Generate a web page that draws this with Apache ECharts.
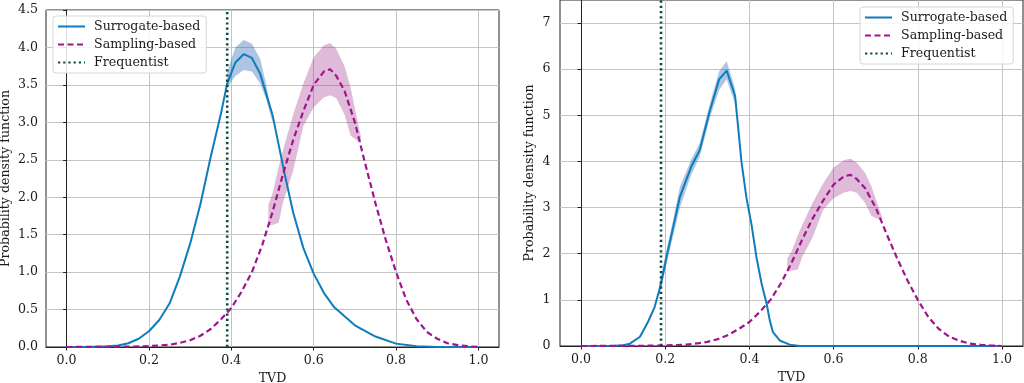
<!DOCTYPE html>
<html><head><meta charset="utf-8">
<script src="https://cdn.jsdelivr.net/npm/echarts@6/dist/echarts.min.js"></script>
<style>html,body{margin:0;padding:0;background:#fff}#c{width:1024px;height:383px}</style>
</head><body><div id="c"></div><script>
// ---- tick labels ----
const xTicks = [0, 0.2, 0.4, 0.6, 0.8, 1.0];
const yTicksLeft = [0, 0.5, 1, 1.5, 2, 2.5, 3, 3.5, 4, 4.5];
const yTicksRight = [0, 1, 2, 3, 4, 5, 6, 7];
const legendNames = ['Surrogate-based', 'Sampling-based', 'Frequentist'];

// ---- Sampling-based (same in both panels) ----
const samplingX = [0, 0.1, 0.15, 0.2, 0.25, 0.275, 0.3, 0.325, 0.35, 0.375, 0.4, 0.425, 0.45, 0.475, 0.5, 0.525, 0.55, 0.575, 0.6, 0.625, 0.64, 0.655, 0.675, 0.7, 0.725, 0.75, 0.775, 0.8, 0.825, 0.85, 0.875, 0.9, 0.925, 0.95, 0.975, 1.0];
const samplingY = [0, 0.002, 0.005, 0.012, 0.03, 0.055, 0.09, 0.15, 0.24, 0.37, 0.52, 0.74, 1.0, 1.36, 1.8, 2.3, 2.76, 3.15, 3.5, 3.68, 3.71, 3.62, 3.42, 3.0, 2.45, 1.92, 1.43, 1.0, 0.63, 0.37, 0.2, 0.11, 0.05, 0.025, 0.01, 0.0];
const sampBandX = [0.49, 0.5, 0.515, 0.525, 0.55, 0.575, 0.6, 0.625, 0.64, 0.655, 0.675, 0.69, 0.705, 0.715];
const sampBandLow = [1.62, 1.63, 1.66, 1.92, 2.35, 2.95, 3.2, 3.33, 3.36, 3.32, 3.1, 2.82, 2.76, 2.72];
const sampBandHigh = [1.9, 2.05, 2.4, 2.62, 3.1, 3.52, 3.87, 4.03, 4.06, 3.98, 3.75, 3.46, 3.05, 2.8];

// ---- Surrogate-based, left panel ----
const surrLeftX = [0, 0.05, 0.1, 0.125, 0.15, 0.175, 0.2, 0.225, 0.25, 0.275, 0.3, 0.325, 0.35, 0.375, 0.39, 0.41, 0.43, 0.45, 0.47, 0.5, 0.53, 0.55, 0.575, 0.6, 0.625, 0.65, 0.7, 0.75, 0.8, 0.85, 0.9, 1.0];
const surrLeftY = [0, 0, 0.01, 0.02, 0.05, 0.11, 0.21, 0.36, 0.58, 0.94, 1.38, 1.91, 2.54, 3.12, 3.52, 3.8, 3.91, 3.86, 3.65, 3.1, 2.3, 1.8, 1.32, 0.98, 0.72, 0.53, 0.29, 0.14, 0.045, 0.01, 0, 0];
const surrLeftBandX = [0.39, 0.4, 0.41, 0.43, 0.45, 0.47, 0.485, 0.5];
const surrLeftBandLow = [3.45, 3.55, 3.62, 3.7, 3.68, 3.52, 3.3, 3.0];
const surrLeftBandHigh = [3.66, 3.85, 4.0, 4.1, 4.05, 3.85, 3.5, 3.05];

// ---- Surrogate-based, right panel ----
const surrRightX = [0, 0.05, 0.08, 0.1, 0.116, 0.14, 0.159, 0.175, 0.19, 0.203, 0.219, 0.235, 0.247, 0.262, 0.282, 0.306, 0.328, 0.346, 0.366, 0.381, 0.393, 0.405, 0.417, 0.429, 0.441, 0.4485, 0.456, 0.472, 0.496, 0.52, 0.6, 1.0];
const surrRightY = [0, 0, 0.005, 0.015, 0.05, 0.2, 0.52, 0.85, 1.35, 1.93, 2.58, 3.24, 3.53, 3.89, 4.25, 5.1, 5.78, 5.97, 5.42, 4.0, 3.21, 2.63, 1.91, 1.35, 0.91, 0.55, 0.3, 0.12, 0.03, 0, 0, 0];
const surrRightBandX = [0.185, 0.2, 0.219, 0.235, 0.247, 0.262, 0.282, 0.306, 0.328, 0.346, 0.366, 0.37];
const surrRightBandLow = [1.05, 1.65, 2.4, 3.0, 3.33, 3.72, 4.1, 4.95, 5.55, 5.78, 5.25, 4.95];
const surrRightBandHigh = [1.3, 1.95, 2.75, 3.45, 3.72, 4.05, 4.4, 5.25, 5.95, 6.17, 5.58, 5.15];

// ---- Frequentist estimates ----
const freqLeft = 0.39;
const freqRight = 0.19;
const yMaxLeft = 4.5;
const yMaxRight = 7.5;

const FONT = 'DejaVu Serif';
const FS = 12.6;
const TXT = '#1a1a1a';
const C_SURR = '#0f7dba';
const C_SAMP = '#a0148f';
const C_FREQ = '#0a4a46';
const BAND_SURR = 'rgba(40,100,180,0.38)';
const BAND_SAMP = 'rgba(150,30,130,0.3)';

const zip = (xs, ys) => xs.map((x, i) => [x, ys[i]]);

function band(xs, lo, hi, color, g) {
  return {
    type: 'custom', xAxisIndex: g, yAxisIndex: g, silent: true, z: 1,
    data: xs.map((x, i) => [x, lo[i], hi[i]]),
    encode: { x: 0, y: [1, 2] },
    renderItem: function (params, api) {
      if (params.dataIndex !== 0) return null;
      const pts = [];
      for (let i = 0; i < xs.length; i++) pts.push(api.coord([xs[i], hi[i]]));
      for (let i = xs.length - 1; i >= 0; i--) pts.push(api.coord([xs[i], lo[i]]));
      return { type: 'polygon', shape: { points: pts }, style: { fill: color, stroke: null } };
    }
  };
}

function xAxis(g) {
  return {
    type: 'value', gridIndex: g, min: -0.05, max: 1.05,
    name: 'TVD', nameLocation: 'middle', nameGap: 25,
    nameTextStyle: { fontFamily: FONT, fontSize: FS, color: TXT },
    axisLine: { show: true, onZero: false, lineStyle: { color: '#222', width: 1 } },
    axisTick: { show: true, inside: false, length: 3.5, customValues: xTicks, lineStyle: { color: '#222' } },
    axisLabel: { customValues: xTicks, formatter: v => v.toFixed(1), margin: 7, fontFamily: FONT, fontSize: FS, color: TXT },
    splitLine: { show: true, lineStyle: { color: '#c4c4c4', width: 1 } }
  };
}
function yAxis(g, max, ticks, dec, gap, margin) {
  return {
    type: 'value', gridIndex: g, min: 0, max: max,
    name: 'Probability density function', nameLocation: 'middle', nameGap: gap, nameRotate: 90,
    nameTextStyle: { fontFamily: FONT, fontSize: FS, color: TXT },
    axisLine: { show: true, lineStyle: { color: '#222', width: 1 } },
    axisTick: { show: true, inside: false, length: 3.5, customValues: ticks, lineStyle: { color: '#222' } },
    axisLabel: { customValues: ticks, formatter: v => v.toFixed(dec), margin: margin, fontFamily: FONT, fontSize: FS, color: TXT },
    splitLine: { show: true, lineStyle: { color: '#c4c4c4', width: 1 } }
  };
}
function mainLines(g, sx, sy, fx, ymax) {
  return [
    { name: 'Surrogate-based', type: 'line', xAxisIndex: g, yAxisIndex: g, data: zip(sx, sy), symbol: 'none',
      lineStyle: { color: C_SURR, width: 2 }, itemStyle: { color: C_SURR }, z: 3 },
    { name: 'Sampling-based', type: 'line', xAxisIndex: g, yAxisIndex: g, data: zip(samplingX, samplingY), symbol: 'none',
      lineStyle: { color: C_SAMP, width: 2.2, type: [6, 3.5] }, itemStyle: { color: C_SAMP }, z: 3 },
    { name: 'Frequentist', type: 'line', xAxisIndex: g, yAxisIndex: g, data: [[fx, 0], [fx, ymax]], symbol: 'none',
      lineStyle: { color: C_FREQ, width: 2.6, type: [2.2, 3] }, itemStyle: { color: C_FREQ }, z: 4 }
  ];
}
function legend(left, top) {
  return {
    data: legendNames, orient: 'vertical', left: left, top: top,
    itemWidth: 27, itemHeight: 14, itemGap: 5, padding: [4, 6, 4, 4],
    backgroundColor: 'rgba(255,255,255,0.85)', borderColor: '#d6d6d6', borderWidth: 1, borderRadius: 3,
    formatter: n => ' ' + n,
    itemStyle: { opacity: 0 },
    textStyle: { fontFamily: FONT, fontSize: FS, color: TXT },
    selectedMode: false
  };
}

const chart = echarts.init(document.getElementById('c'), null, { renderer: 'canvas' });
chart.setOption({
  animation: false,
  backgroundColor: '#fff',
  grid: [
    { left: 46, top: 10, width: 453, height: 337, containLabel: false, outerBoundsMode: 'none',
      show: true, borderColor: '#222', borderWidth: 1, backgroundColor: 'transparent' },
    { left: 560, top: 0, width: 463, height: 346, containLabel: false, outerBoundsMode: 'none',
      show: true, borderColor: '#222', borderWidth: 1, backgroundColor: 'transparent' }
  ],
  xAxis: [xAxis(0), xAxis(1)],
  yAxis: [yAxis(0, yMaxLeft, yTicksLeft, 1, 34, 8), yAxis(1, yMaxRight, yTicksRight, 0, 24, 9.5)],
  legend: [legend(53, 16), legend(860, 7)],
  series: [].concat(
    band(surrLeftBandX, surrLeftBandLow, surrLeftBandHigh, BAND_SURR, 0),
    band(sampBandX, sampBandLow, sampBandHigh, BAND_SAMP, 0),
    band(surrRightBandX, surrRightBandLow, surrRightBandHigh, BAND_SURR, 1),
    band(sampBandX, sampBandLow, sampBandHigh, BAND_SAMP, 1),
    mainLines(0, surrLeftX, surrLeftY, freqLeft, yMaxLeft),
    mainLines(1, surrRightX, surrRightY, freqRight, yMaxRight)
  )
});
</script></body></html>
